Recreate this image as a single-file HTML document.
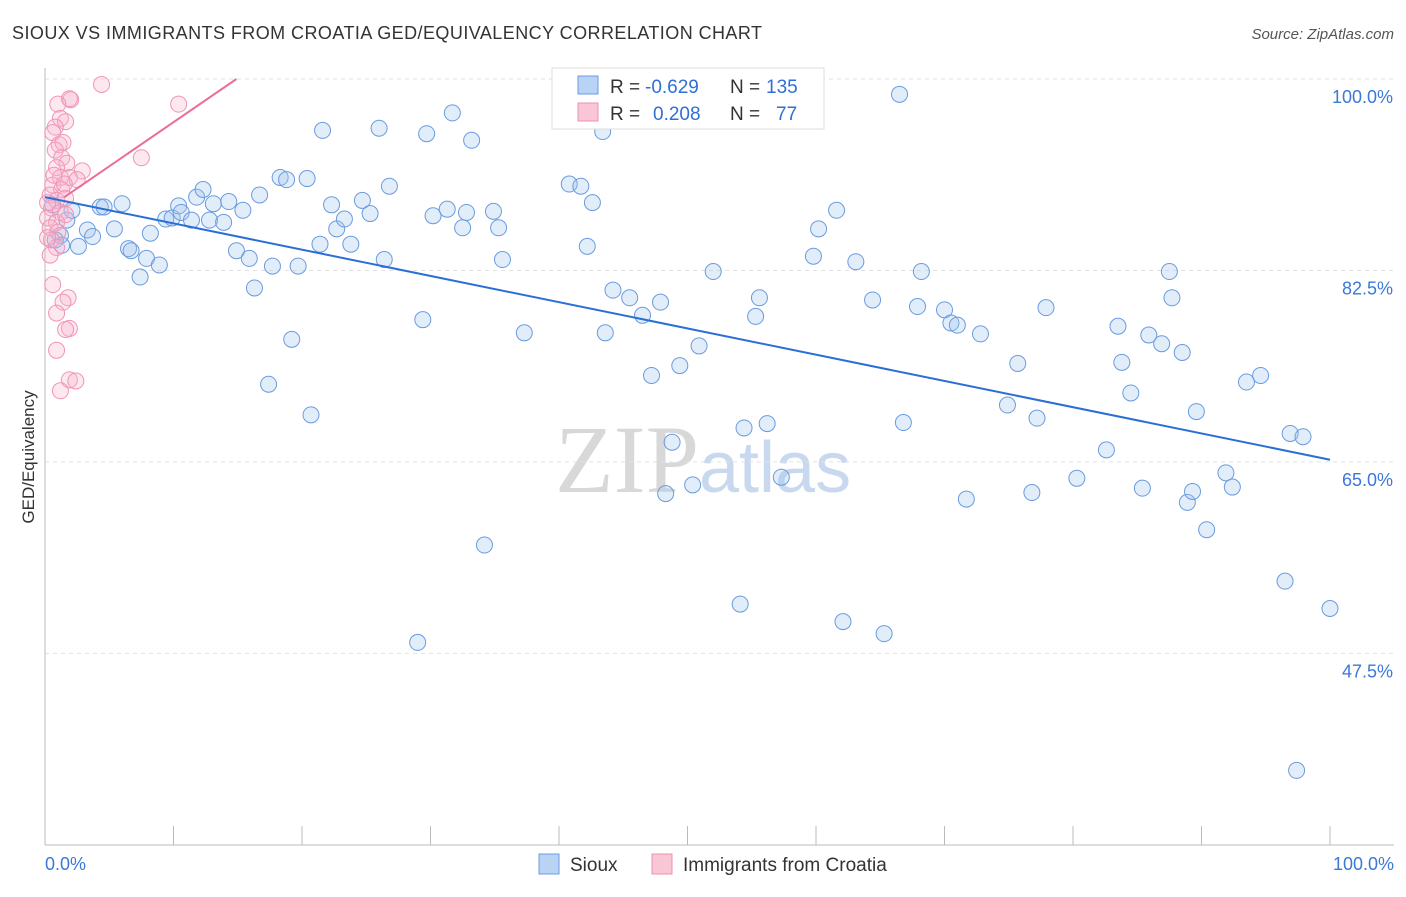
<!DOCTYPE html>
<html><head><meta charset="utf-8"><style>
body{margin:0;background:#fff;font-family:"Liberation Sans",sans-serif;}
</style></head><body>
<svg width="1406" height="892" xmlns="http://www.w3.org/2000/svg" font-family="Liberation Sans, sans-serif" id="chart">
<text x="12" y="39" font-size="18" fill="#333" textLength="750">SIOUX VS IMMIGRANTS FROM CROATIA GED/EQUIVALENCY CORRELATION CHART</text>
<text x="1394" y="39" font-size="15" fill="#555" text-anchor="end" font-style="italic">Source: ZipAtlas.com</text>
<text x="555" y="492" font-size="96" fill="#d8d8d8" font-family="Liberation Serif, serif">ZIP<tspan fill="#c8d8ee" font-family="Liberation Sans, sans-serif" font-size="72">atlas</tspan></text>
<text transform="translate(34,457) rotate(-90)" font-size="17" fill="#333" text-anchor="middle">GED/Equivalency</text>
<g id="grid"></g><g id="axes"></g><g id="pts"></g><g id="lines"></g>
<g>
<rect x="552" y="68" width="272" height="61" fill="#fff" stroke="#ddd"/>
<rect x="578" y="76" width="20" height="18" fill="#b9d3f5" stroke="#6b9be0"/>
<rect x="578" y="103" width="20" height="18" fill="#f9c6d6" stroke="#ee8fb0"/>
<text x="610" y="93" font-size="19" fill="#333">R =</text>
<text x="645" y="93" font-size="19" fill="#2f6fd6">-0.629</text>
<text x="730" y="93" font-size="19" fill="#333">N =</text>
<text x="766" y="93" font-size="19" fill="#2f6fd6">135</text>
<text x="610" y="120" font-size="19" fill="#333">R =</text>
<text x="653" y="120" font-size="19" fill="#2f6fd6">0.208</text>
<text x="730" y="120" font-size="19" fill="#333">N =</text>
<text x="776" y="120" font-size="19" fill="#2f6fd6">77</text>
</g>
<g>
<rect x="539" y="854" width="20" height="20" fill="#b9d3f5" stroke="#6b9be0"/>
<text x="570" y="871" font-size="19" fill="#333">Sioux</text>
<rect x="652" y="854" width="20" height="20" fill="#f9c6d6" stroke="#ee8fb0"/>
<text x="683" y="871" font-size="19" fill="#333">Immigrants from Croatia</text>
</g>
</svg>
<script>
const yTicks=[100,82.5,65,47.5];
const yTickLabels=["100.0%","82.5%","65.0%","47.5%"];
const xLabels=["0.0%","100.0%"];
const siouxX=[4.3,4.6,6.0,1.7,3.3,3.7,2.6,5.4,6.5,6.7,7.9,7.4,8.2,8.9,9.4,9.9,10.4,10.6,11.4,11.8,12.3,12.8,13.1,13.9,14.3,14.9,15.4,15.9,16.3,16.7,17.4,17.7,18.3,18.8,19.2,19.7,20.4,20.7,21.4,21.6,22.3,22.7,23.3,23.8,24.7,25.3,26.0,26.4,26.8,29.4,29.7,29.0,30.2,31.3,31.7,32.5,32.8,33.2,34.2,34.9,35.3,35.6,37.3,40.8,41.7,42.2,42.6,43.4,43.6,44.2,45.5,46.5,47.2,47.9,48.3,48.8,49.4,50.4,50.9,52.0,54.1,54.4,55.3,55.6,56.2,57.3,59.8,60.2,61.6,62.1,63.1,64.4,65.3,66.5,66.8,67.9,68.2,70.0,70.5,71.0,71.7,72.8,74.9,75.7,76.8,77.2,77.9,80.3,82.6,83.5,83.8,84.5,85.4,85.9,86.9,87.5,87.7,88.5,88.9,89.3,89.6,90.4,91.9,92.4,93.5,94.6,96.5,96.9,97.4,97.9,100,1.2,0.8,2.1,1.3,0.6];
const siouxY=[88.3,88.3,88.6,87.1,86.2,85.6,84.7,86.3,84.5,84.3,83.6,81.9,85.9,83.0,87.2,87.3,88.4,87.8,87.1,89.2,89.9,87.1,88.6,86.9,88.8,84.3,88.0,83.6,80.9,89.4,72.1,82.9,91.0,90.8,76.2,82.9,90.9,69.3,84.9,95.3,88.5,86.3,87.2,84.9,88.9,87.7,95.5,83.5,90.2,78.0,95.0,48.5,87.5,88.1,96.9,86.4,87.8,94.4,57.4,87.9,86.4,83.5,76.8,90.4,90.2,84.7,88.7,95.2,76.8,80.7,80.0,78.4,72.9,79.6,62.1,66.8,73.8,62.9,75.6,82.4,52.0,68.1,78.3,80.0,68.5,63.6,83.8,86.3,88.0,50.4,83.3,79.8,49.3,98.6,68.6,79.2,82.4,78.9,77.7,77.5,61.6,76.7,70.2,74.0,62.2,69.0,79.1,63.5,66.1,77.4,74.1,71.3,62.6,76.6,75.8,82.4,80.0,75.0,61.3,62.3,69.6,58.8,64.0,62.7,72.3,72.9,54.1,67.6,36.8,67.3,51.6,85.7,85.3,88.0,84.8,88.5];
const croX=[4.4,2.0,1.9,1.0,10.4,1.2,1.6,0.8,0.6,1.1,1.4,0.8,7.5,1.3,1.7,2.9,0.9,1.2,1.9,2.5,0.6,1.3,0.4,0.9,1.6,0.5,1.2,0.2,0.9,1.6,0.4,1.0,0.5,0.9,0.4,0.6,1.8,1.4,0.9,1.9,1.6,0.9,1.9,2.4,1.2,0.2,0.7,0.2,1.5];
const croY=[99.5,98.1,98.2,97.7,97.7,96.4,96.1,95.6,95.1,94.0,94.2,93.5,92.8,92.8,92.3,91.6,91.9,91.0,91.0,90.8,90.3,89.9,89.4,88.9,89.1,88.2,87.8,87.3,86.9,87.6,86.4,86.0,85.3,84.6,83.9,81.2,80.0,79.6,78.6,77.2,77.1,75.2,72.5,72.4,71.5,88.7,91.2,85.5,90.4];
const siouxTrend=[[0,89.2],[100,65.2]];
const croTrend=[[1.5,89.2],[14.9,100]];
const NS="http://www.w3.org/2000/svg";
const X0=45,X1=1330,Y100=79,PXPER=10.94;
const sx=v=>X0+(X1-X0)*v/100;
const sy=v=>Y100+(100-v)*PXPER;
function mk(tag,attrs,parent){const e=document.createElementNS(NS,tag);for(const k in attrs)e.setAttribute(k,attrs[k]);document.getElementById(parent).appendChild(e);return e;}
yTicks.forEach((t,i)=>{
 const g=mk('line',{x1:X0,x2:1394,y1:sy(t),y2:sy(t),stroke:'#e2e2e2','stroke-dasharray':'4,4'},'grid');
 
 
 const l=mk('text',{x:1393,y:sy(t)+24,'font-size':18,fill:'#3b78d8','text-anchor':'end'},'grid');
 l.textContent=yTickLabels[i];
 
 
});
const ax=mk('line',{x1:X0,x2:X0,y1:68,y2:845,stroke:'#bbb'},'axes');


const bx=mk('line',{x1:X0,x2:1394,y1:845,y2:845,stroke:'#bbb'},'axes');


for(let i=0;i<=10;i++){const t=mk('line',{x1:sx(i*10),x2:sx(i*10),y1:826,y2:845,stroke:'#bbb'},'axes');
 
 }
[[0,'start',45],[100,'end',1394]].forEach((d,i)=>{const t=mk('text',{x:d[2],y:870,'font-size':18,fill:'#3b78d8','text-anchor':d[1]},'axes');t.textContent=xLabels[i];
 
 });
siouxX.forEach((x,i)=>{const c=mk('circle',{cx:sx(x),cy:sy(siouxY[i]),r:8,fill:'rgba(160,195,240,0.3)',stroke:'#6a9bdf','stroke-width':1},'pts');
 
 });
croX.forEach((x,i)=>{const c=mk('circle',{cx:sx(x),cy:sy(croY[i]),r:8,fill:'rgba(248,180,205,0.3)',stroke:'#f095b5','stroke-width':1},'pts');
 
 });
const l1=mk('line',{x1:sx(siouxTrend[0][0]),y1:sy(siouxTrend[0][1]),x2:sx(siouxTrend[1][0]),y2:sy(siouxTrend[1][1]),stroke:'#2a6fd6','stroke-width':2},'lines');


const l2=mk('line',{x1:sx(croTrend[0][0]),y1:sy(croTrend[0][1]),x2:sx(croTrend[1][0]),y2:sy(croTrend[1][1]),stroke:'#ec6d95','stroke-width':2},'lines');


</script>
</body></html>
